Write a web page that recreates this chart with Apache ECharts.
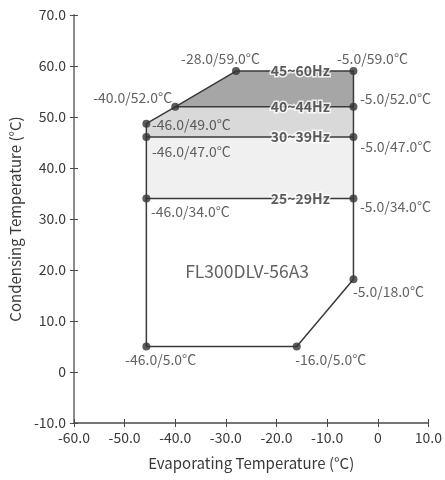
<!DOCTYPE html>
<html><head><meta charset="utf-8">
<script src="https://cdn.jsdelivr.net/npm/echarts@6/dist/echarts.min.js"></script>
<style>html,body{margin:0;padding:0;background:#fff}#c{width:445px;height:480px}</style>
</head><body><div id="c"></div>
<script>
// ---- data ----
const xTicks = [-60, -50, -40, -30, -20, -10, 0, 10];
const yTicks = [-10, 0, 10, 20, 30, 40, 50, 60, 70];
const xName = 'Evaporating Temperature (°C)';
const yName = 'Condensing Temperature (°C)';
const modelName = 'FL300DLV-56A3';

// envelope vertices [evap, cond]
const outline = [[-45.7,5],[-16,5],[-4.8,18.2],[-4.8,59],[-28,59],[-40,52],[-45.7,48.7],[-45.7,5]];
const line52 = [[-40,52],[-4.8,52]];
const line47 = [[-45.7,46.1],[-4.8,46.1]];
const line34 = [[-45.7,34],[-4.8,34]];

// shaded frequency regions
const region45_60 = [[-40,52],[-28,59],[-4.8,59],[-4.8,52]];
const region40_44 = [[-45.7,48.7],[-40,52],[-4.8,52],[-4.8,46.1],[-45.7,46.1]];
const region30_39 = [[-45.7,46.1],[-4.8,46.1],[-4.8,34],[-45.7,34]];

// frequency band labels
const bandX = [-15.3, -15.3, -15.3, -15.3];
const bandY = [59, 52, 46.1, 34];
const bandText = ['45~60Hz', '40~44Hz', '30~39Hz', '25~29Hz'];

// marked points and their labels
const pointX = [-28, -4.8, -40, -4.8, -45.7, -45.7, -4.8, -45.7, -4.8, -4.8, -45.7, -16];
const pointY = [59, 59, 52, 52, 48.7, 46.1, 46.1, 34, 34, 18.2, 5, 5];
const pointText = ['-28.0/59.0°C','-5.0/59.0°C','-40.0/52.0°C','-5.0/52.0°C','-46.0/49.0°C','-46.0/47.0°C','-5.0/47.0°C','-46.0/34.0°C','-5.0/34.0°C','-5.0/18.0°C','-46.0/5.0°C','-16.0/5.0°C'];

const modelPos = [-25.8, 19.7];

// ---- styles ----
const labelOffsets = [[-15.5,-12],[19,-12],[-42.6,-9],[42,-8],[45,1],[45,15],[42.4,10],[44,13.4],[42,8.4],[35,12.7],[14.3,13.3],[34,13.3]];
const regionColors = ['#a6a6a6', '#d9d9d9', '#f0f0f0'];
const FONT = 'Noto Sans CJK SC';
const TXT = '#3a3a3a';
const LINE = '#3a3a3a';

const regionPolys = [region45_60, region40_44, region30_39];
const fmt = v => v === 0 ? '0' : v.toFixed(1);

function axisPair(type, ticks, name, nameGap, rotate) {
  const min = ticks[0], max = ticks[ticks.length - 1], interval = ticks[1] - ticks[0];
  const isY = type === 'y';
  const pos = isY ? 'left' : 'bottom';
  const main = {
    type: 'value', min, max, interval, gridIndex: 0, position: pos,
    name, nameLocation: 'middle', nameGap, nameRotate: rotate,
    nameTextStyle: { fontFamily: FONT, fontSize: 15, color: TXT },
    axisLine: { show: true, onZero: false, lineStyle: { color: isY ? '#8c8c8c' : '#4a4a4a', width: isY ? 2 : 1.5 } },
    axisTick: { show: true, length: 4, lineStyle: { color: '#4a4a4a', width: 1 } },
    axisLabel: { formatter: fmt, fontFamily: FONT, fontSize: 14, color: TXT, margin: 8 },
    splitLine: { show: false }
  };
  const overlay = {
    type: 'value', min, max, interval, gridIndex: 0, position: pos,
    axisLine: { show: false, onZero: false },
    axisTick: { show: true, inside: true, length: 4, lineStyle: { color: '#4a4a4a', width: 1 } },
    axisLabel: { show: false },
    splitLine: { show: false }
  };
  return [main, overlay];
}

const chart = echarts.init(document.getElementById('c'), null, { renderer: 'canvas' });

const lineSeries = (data) => ({
  type: 'line', data, symbol: 'none', silent: true, z: 3,
  lineStyle: { color: LINE, width: 1.5 }
});

chart.setOption({
  animation: false,
  backgroundColor: '#fff',
  grid: { left: 73, right: 15, top: 15, bottom: 57, containLabel: false },
  xAxis: axisPair('x', xTicks, xName, 33, 0),
  yAxis: axisPair('y', yTicks, yName, 46, 90),
  series: [
    {
      type: 'custom', z: 1, silent: true,
      data: regionPolys.map((p, i) => [p[0][0], p[0][1], i]),
      renderItem: (params, api) => {
        const poly = regionPolys[params.dataIndex];
        return {
          type: 'polygon',
          shape: { points: poly.map(p => api.coord(p)) },
          style: { fill: regionColors[params.dataIndex], stroke: null }
        };
      }
    },
    lineSeries(outline),
    lineSeries(line52),
    lineSeries(line47),
    lineSeries(line34),
    {
      type: 'scatter', z: 5, silent: true, symbolSize: 0,
      data: bandX.map((x, i) => ({ value: [x, bandY[i]], name: bandText[i] })),
      label: {
        show: true, position: 'inside', formatter: '{b}',
        fontFamily: FONT, fontSize: 14, fontWeight: 'bold', color: '#333',
        textBorderColor: '#fff', textBorderWidth: 3
      }
    },
    {
      type: 'scatter', z: 6, silent: true, symbol: 'circle', symbolSize: 8,
      itemStyle: { color: '#333' },
      data: pointX.map((x, i) => ({
        value: [x, pointY[i]], name: pointText[i],
        label: { offset: labelOffsets[i] }
      })),
      label: {
        show: true, position: 'inside', formatter: '{b}', align: 'center', verticalAlign: 'middle',
        fontFamily: FONT, fontSize: 14, color: TXT
      }
    },
    {
      type: 'scatter', z: 5, silent: true, symbolSize: 0,
      data: [{ value: modelPos, name: modelName }],
      label: { show: true, position: 'inside', formatter: '{b}', fontFamily: FONT, fontSize: 17.5, color: TXT }
    }
  ]
});
</script>
</body></html>
